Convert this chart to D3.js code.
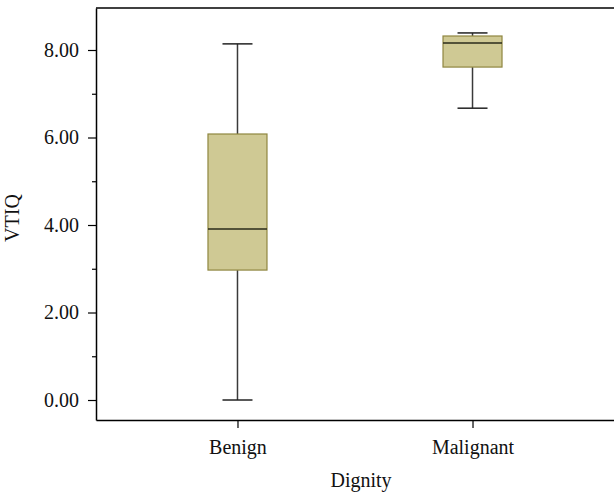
<!DOCTYPE html>
<html>
<head>
<meta charset="utf-8">
<script src="https://cdn.jsdelivr.net/npm/d3@7"></script>
<style>
  body { margin: 0; background: #fff; }
  text { font-family: "Liberation Serif", "DejaVu Serif", serif; fill: #111; }
</style>
</head>
<body>
<script>
// DATA
const CATEGORIES = ['Benign', 'Malignant'];
const WHISKER_LOW = [0.00, 6.67];
const Q1 = [2.97, 7.61];
const MEDIAN = [3.91, 8.16];
const Q3 = [6.08, 8.32];
const WHISKER_HIGH = [8.14, 8.39];
const Y_TICKS = [0, 2, 4, 6, 8];
const Y_MINOR = [1, 3, 5, 7];

const boxes = CATEGORIES.map((c, i) => ({
  name: c, lo: WHISKER_LOW[i], q1: Q1[i], med: MEDIAN[i], q3: Q3[i], hi: WHISKER_HIGH[i]
}));

// CONSTANTS
const WIDTH = 614;
const HEIGHT = 496;
const LEFT = 96;
const TOP = 8;
const BOTTOM = 420;
const RIGHT = 614;
const BOX_WIDTH = 59;
const CAP_WIDTH = 30;
const FONT = '20px';

const X_SCALE = d3.scalePoint()
  .domain(CATEGORIES)
  .range([LEFT, RIGHT])
  .padding(0.602);

const Y_SCALE = d3.scaleLinear()
  .domain([-0.457, 8.96])
  .range([BOTTOM, TOP]);

const svg = d3.select('body')
  .append('svg')
  .attr('width', WIDTH)
  .attr('height', HEIGHT);

// BOXES
const g = svg.selectAll('g.box')
  .data(boxes)
  .enter()
  .append('g')
  .attr('class', 'box');

// whiskers
g.append('line')
  .attr('x1', d => X_SCALE(d.name)).attr('x2', d => X_SCALE(d.name))
  .attr('y1', d => Y_SCALE(d.lo)).attr('y2', d => Y_SCALE(d.q1))
  .attr('stroke', '#3a3a3a').attr('stroke-width', 1.5);
g.append('line')
  .attr('x1', d => X_SCALE(d.name)).attr('x2', d => X_SCALE(d.name))
  .attr('y1', d => Y_SCALE(d.q3)).attr('y2', d => Y_SCALE(d.hi))
  .attr('stroke', '#3a3a3a').attr('stroke-width', 1.5);
// caps
['lo', 'hi'].forEach(k => {
  g.append('line')
    .attr('x1', d => X_SCALE(d.name) - CAP_WIDTH / 2)
    .attr('x2', d => X_SCALE(d.name) + CAP_WIDTH / 2)
    .attr('y1', d => Y_SCALE(d[k])).attr('y2', d => Y_SCALE(d[k]))
    .attr('stroke', '#222').attr('stroke-width', 1.5);
});

g.append('rect')
  .attr('x', d => X_SCALE(d.name) - BOX_WIDTH / 2)
  .attr('y', d => Y_SCALE(d.q3))
  .attr('width', BOX_WIDTH)
  .attr('height', d => Y_SCALE(d.q1) - Y_SCALE(d.q3))
  .attr('fill', '#cfc994')
  .attr('stroke', '#8f8640')
  .attr('stroke-width', 1.2);

g.append('line')
  .attr('x1', d => X_SCALE(d.name) - BOX_WIDTH / 2)
  .attr('x2', d => X_SCALE(d.name) + BOX_WIDTH / 2)
  .attr('y1', d => Y_SCALE(d.med)).attr('y2', d => Y_SCALE(d.med))
  .attr('stroke', '#2a2a1a').attr('stroke-width', 1.5);

// FRAME (top line)
svg.append('line')
  .attr('x1', LEFT).attr('x2', RIGHT)
  .attr('y1', TOP).attr('y2', TOP)
  .attr('stroke', '#000').attr('stroke-width', 1.5);

// Y-AXIS
const Y_AXIS = d3.axisLeft(Y_SCALE)
  .tickValues(Y_TICKS)
  .tickFormat(d3.format('.2f'))
  .tickSizeInner(8)
  .tickSizeOuter(0)
  .tickPadding(9);
const yg = svg.append('g')
  .attr('transform', 'translate(' + LEFT + ',0)')
  .call(Y_AXIS);
yg.selectAll('.tick line').attr('stroke-width', 1.2);
yg.selectAll('text').style('font-size', FONT).style('font-family', '"Liberation Serif", serif');
yg.select('.domain').attr('stroke-width', 1.5);

svg.append('g')
  .attr('transform', 'translate(' + LEFT + ',0)')
  .call(d3.axisLeft(Y_SCALE).tickValues(Y_MINOR).tickFormat('').tickSizeInner(4).tickSizeOuter(0))
  .call(s => s.select('.domain').remove())
  .selectAll('.tick line').attr('stroke-width', 1.2);

// X-AXIS
const X_AXIS = d3.axisBottom(X_SCALE)
  .tickSizeInner(8)
  .tickSizeOuter(0)
  .tickPadding(12);
const xg = svg.append('g')
  .attr('transform', 'translate(0,' + BOTTOM + ')')
  .call(X_AXIS);
xg.selectAll('.tick line').attr('stroke-width', 1.2);
xg.selectAll('text').style('font-size', FONT).style('font-family', '"Liberation Serif", serif');
xg.select('.domain').attr('stroke-width', 1.5);

// AXIS TITLES
svg.append('text')
  .attr('x', 361)
  .attr('y', 487)
  .style('text-anchor', 'middle')
  .style('font-size', FONT)
  .text('Dignity');

svg.append('text')
  .attr('transform', 'translate(19,218) rotate(-90)')
  .style('text-anchor', 'middle')
  .style('font-size', FONT)
  .text('VTIQ');
</script>
</body>
</html>
